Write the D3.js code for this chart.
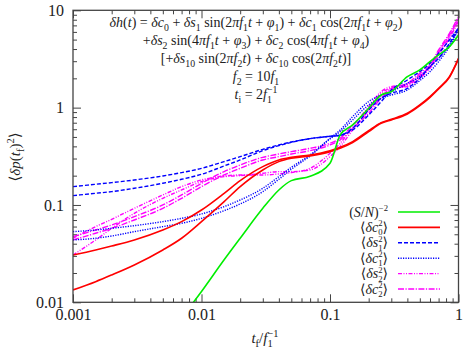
<!DOCTYPE html>
<html>
<head>
<meta charset="utf-8">
<script src="https://cdn.jsdelivr.net/npm/d3@7"></script>
<style>
  body { margin: 0; background: #fff; }
  svg { display: block; }
  text { font-family: "Liberation Serif", "DejaVu Serif", serif; fill: #222; }
</style>
</head>
<body>
<svg id="chart" width="463" height="353"></svg>
<script>
// t_f in units of 1/f1
const tf = [0.001, 0.0015, 0.002, 0.003, 0.005, 0.007, 0.01, 0.015, 0.02, 0.03, 0.04, 0.05, 0.07,
            0.1, 0.12, 0.15, 0.2, 0.25, 0.3, 0.4, 0.5, 0.6, 0.7, 0.85, 1];

// (S/N)^-2
const snr = [null, null, null, null, 0.0038, 0.0069, 0.0129, 0.0273, 0.0455, 0.0924, 0.1426, 0.1778, 0.197,
             0.268, 0.524, 0.664, 0.985, 1.349, 1.46, 2.08, 2.44, 2.97, 3.48, 4.23, 5.58];
// <dc0^2>
const c0a = [0.0306, 0.0345, 0.0379, 0.0437, 0.0553, 0.0674, 0.0888, 0.1318, 0.1778, 0.2476, 0.29, 0.3088, 0.3264,
             0.3615, 0.3914, 0.4473, 0.5804, 0.7015, 0.7589, 0.875, 1.065, 1.297, 1.58, 2.082, 3.213];
const c0b = [0.0134, 0.0163, 0.0191, 0.0242, 0.0345, 0.0455, 0.0674, 0.1082, 0.1543, 0.2289, 0.2788, 0.3017, 0.3187,
             0.3531, 0.382, 0.4369, 0.5667, 0.69, 0.747, 0.861, 1.048, 1.277, 1.555, 2.049, 3.162];
// <ds1^2>
const s1a = [0.1543, 0.1631, 0.1696, 0.1806, 0.1986, 0.2149, 0.2379, 0.2788, 0.3137, 0.373, 0.4134, 0.4438, 0.4803,
             0.5075, 0.5197, 0.6135, 0.9465, 1.247, 1.404, 1.58, 2.001, 2.638, 3.213, 4.581, 6.535];
const s1b = [0.1248, 0.1318, 0.1371, 0.1484, 0.167, 0.1835, 0.2066, 0.2517, 0.29, 0.3615, 0.407, 0.4403, 0.4803,
             0.5075, 0.5197, 0.5897, 0.8408, 1.153, 1.519, 1.924, 2.344, 2.854, 3.615, 4.957, 6.586];
// <dc1^2>
const c1a = [0.0532, 0.0553, 0.0576, 0.0613, 0.0674, 0.0729, 0.0808, 0.0961, 0.1125, 0.1484, 0.1955, 0.2438, 0.3264,
             0.4841, 0.5896, 0.8083, 1.153, 1.349, 1.46, 1.778, 2.082, 2.638, 3.213, 4.404, 6.535];
const c1b = [0.0437, 0.0455, 0.048, 0.0532, 0.0599, 0.0648, 0.0729, 0.0874, 0.1024, 0.1371, 0.1835, 0.2325, 0.3187,
             0.4765, 0.5667, 0.747, 1.065, 1.247, 1.349, 1.519, 1.894, 2.344, 2.969, 4.233, 6.381];
// <ds2^2>
const s2a = [0.0455, 0.0599, 0.0712, 0.0924, 0.1267, 0.1543, 0.1806, 0.1986, 0.2034, 0.2034, 0.2083, 0.2149, 0.2379,
             0.3396, 0.43, 0.6378, 1.024, 1.46, 1.644, 1.71, 2.082, 2.638, 3.615, 5.365, 7.956];
const s2b = [0.0306, 0.0437, 0.0576, 0.0821, 0.1171, 0.1426, 0.1736, 0.1955, 0.2002, 0.2115, 0.2201, 0.2201, 0.2289,
             0.3137, 0.3976, 0.5896, 0.9465, 1.404, 1.58, 1.644, 2.001, 2.536, 3.476, 5.158, 7.648];
// <dc2^2>
const c2a = [0.0473, 0.0553, 0.0623, 0.0759, 0.1, 0.1267, 0.167, 0.2201, 0.2576, 0.3088, 0.3342, 0.3531, 0.382,
             0.43, 0.4841, 0.6637, 0.9465, 1.297, 1.58, 1.778, 2.253, 2.744, 3.913, 5.803, 8.608];
const c2b = [0.0437, 0.0512, 0.0576, 0.0701, 0.0924, 0.1171, 0.1543, 0.2034, 0.2379, 0.29, 0.3137, 0.3342, 0.3615,
             0.4134, 0.4655, 0.6135, 0.875, 1.247, 1.519, 1.71, 2.166, 2.638, 3.762, 5.579, 8.276];

const xTicks = [0.001, 0.01, 0.1, 1];
const xTickLabels = ["0.001", "0.01", "0.1", "1"];
const yTicks = [0.01, 0.1, 1, 10];
const yTickLabels = ["0.01", "0.1", "1", "10"];

const series = [
  {label: "(S/N)^{−2}", color: "#00ee00", dash: null, curves: [snr]},
  {label: "⟨δc_0^2⟩", color: "#ff0000", dash: null, curves: [c0a, c0b]},
  {label: "⟨δs_1^2⟩", color: "#0000ff", dash: "4,2", curves: [s1a, s1b]},
  {label: "⟨δc_1^2⟩", color: "#0000ff", dash: "1.2,1.3", curves: [c1a, c1b]},
  {label: "⟨δs_2^2⟩", color: "#ff00ff", dash: "4,1.5,1,1.5,1,1.5", curves: [s2a, s2b]},
  {label: "⟨δc_2^2⟩", color: "#ff00ff", dash: "6,1.5,1.2,1.5", curves: [c2a, c2b]}
];

const notes = [
  "δh(t) = δc_0 + δs_1 sin(2πf_1t + φ_1) + δc_1 cos(2πf_1t + φ_2)",
  "+δs_2 sin(4πf_1t + φ_3) + δc_2 cos(4πf_1t + φ_4)",
  "[+δs_{10} sin(2πf_2t) + δc_{10} cos(2πf_2t)]",
  "f_2 = 10f_1",
  "t_i = 2f_1^{−1}"
];

const svg = d3.select("#chart");
const margin = {top: 10.3, right: 4.5, bottom: 50.7, left: 73};
const W = 463, H = 353;
const x = d3.scaleLog().domain([0.001, 1]).range([margin.left, W - margin.right]);
const y = d3.scaleLog().domain([0.01, 10]).range([H - margin.bottom, margin.top]);

// little tex-ish writer: letters italic, subscripts/superscripts small roman
function tex(el, s, fs, sc) {
  sc = sc || 0.7;
  const runs = [];
  let i = 0;
  while (i < s.length) {
    const ch = s[i];
    if (s.startsWith("sin", i) || s.startsWith("cos", i)) {
      runs.push({text: s.substr(i, 3), it: false, lvl: 0}); i += 3; continue;
    }
    if (ch === "_" || ch === "^") {
      let body;
      if (s[i + 1] === "{") { const j = s.indexOf("}", i); body = s.slice(i + 2, j); i = j + 1; }
      else { body = s[i + 1]; i += 2; }
      runs.push({text: body, it: false, lvl: ch === "_" ? -1 : 1}); continue;
    }
    const it = /[A-Za-zδπφ]/.test(ch);
    const last = runs[runs.length - 1];
    if (last && last.lvl === 0 && last.it === it) last.text += ch;
    else runs.push({text: ch, it: it, lvl: 0});
    i++;
  }
  let cur = 0;
  runs.forEach((r, k) => {
    const target = r.lvl === -1 ? 0.25 * fs : r.lvl === 1 ? -0.4 * fs : 0;
    const t = el.append("tspan").text(r.text)
      .attr("dy", target - cur)
      .style("font-style", r.it ? "italic" : "normal")
      .style("font-size", (r.lvl ? fs * sc : fs) + "px");
    const prev = runs[k - 1];
    if (r.lvl === 1 && prev && prev.lvl === -1) t.attr("dx", -prev.text.length * fs * sc * 0.5);
    cur = target;
  });
}

// clip
svg.append("clipPath").attr("id", "clip").append("rect")
  .attr("x", x(0.001)).attr("y", y(10))
  .attr("width", x(1) - x(0.001)).attr("height", y(0.01) - y(10));

// minor tick values
const minorX = [], minorY = [];
[0.001, 0.01, 0.1].forEach(d => { for (let k = 2; k < 10; k++) minorX.push(d * k); });
[0.01, 0.1, 1].forEach(d => { for (let k = 2; k < 10; k++) minorY.push(d * k); });

const axisCol = "#444";
function styleAxis(g) {
  g.select(".domain").remove();
  g.selectAll("line").attr("stroke", axisCol).attr("stroke-width", 1);
  g.selectAll("text").style("font-size", "16px").attr("fill", "#222");
}

const gBottom = svg.append("g").attr("transform", `translate(0,${y(0.01)})`);
gBottom.call(d3.axisBottom(x).tickValues(xTicks).tickSize(-8).tickPadding(6)
  .tickFormat((d, i) => xTickLabels[i])).call(styleAxis);
gBottom.append("g").call(d3.axisBottom(x).tickValues(minorX).tickSize(-4).tickFormat("")).call(styleAxis);

const gTop = svg.append("g").attr("transform", `translate(0,${y(10)})`);
gTop.call(d3.axisTop(x).tickValues(xTicks).tickSize(-8).tickFormat("")).call(styleAxis);
gTop.append("g").call(d3.axisTop(x).tickValues(minorX).tickSize(-4).tickFormat("")).call(styleAxis);

const gLeft = svg.append("g").attr("transform", `translate(${x(0.001)},0)`);
gLeft.call(d3.axisLeft(y).tickValues(yTicks).tickSize(-8).tickPadding(9)
  .tickFormat((d, i) => yTickLabels[i])).call(styleAxis);
gLeft.append("g").call(d3.axisLeft(y).tickValues(minorY).tickSize(-4).tickFormat("")).call(styleAxis);

const gRight = svg.append("g").attr("transform", `translate(${x(1)},0)`);
gRight.call(d3.axisRight(y).tickValues(yTicks).tickSize(-8).tickFormat("")).call(styleAxis);
gRight.append("g").call(d3.axisRight(y).tickValues(minorY).tickSize(-4).tickFormat("")).call(styleAxis);

// curves
const line = d3.line()
  .defined(d => d[1] != null)
  .x(d => x(d[0])).y(d => y(d[1]))
  .curve(d3.curveMonotoneX);

const plot = svg.append("g").attr("clip-path", "url(#clip)");
series.slice().reverse().forEach(s => {
  s.curves.forEach(vals => {
    plot.append("path")
      .datum(tf.map((t, i) => [t, vals[i]]))
      .attr("d", line)
      .attr("fill", "none")
      .attr("stroke", s.color)
      .attr("stroke-width", s.dash ? 1.4 : 1.6)
      .attr("stroke-dasharray", s.dash);
  });
});

// frame
svg.append("rect")
  .attr("x", x(0.001)).attr("y", y(10))
  .attr("width", x(1) - x(0.001)).attr("height", y(0.01) - y(10))
  .attr("fill", "none").attr("stroke", axisCol).attr("stroke-width", 1.3);

// equations in the plot
notes.forEach((n, i) => {
  const t = svg.append("text").attr("x", 256).attr("y", 27 + i * 18)
    .attr("text-anchor", "middle").style("font-size", "14px");
  tex(t, n, 14);
});

// legend
const lg = svg.append("g");
series.forEach((s, i) => {
  const yy = 212 + i * 15.4;
  const t = lg.append("text").attr("x", 388).attr("y", yy + 4.5)
    .attr("text-anchor", "end").style("font-size", "14px");
  tex(t, s.label, 14, 0.62);
  lg.append("line").attr("x1", 398).attr("x2", 440).attr("y1", yy).attr("y2", yy)
    .attr("stroke", s.color).attr("stroke-width", s.dash ? 1.4 : 1.6)
    .attr("stroke-dasharray", s.dash);
});

// axis titles
const xl = svg.append("text").attr("x", 265).attr("y", 343)
  .attr("text-anchor", "middle").style("font-size", "15px");
tex(xl, "t_f/f_1^{−1}", 15);

const yl = svg.append("text").attr("transform", "translate(20,157) rotate(-90)")
  .attr("text-anchor", "middle").style("font-size", "15px");
tex(yl, "⟨δp(t_f)^2⟩", 15);
</script>
</body>
</html>
